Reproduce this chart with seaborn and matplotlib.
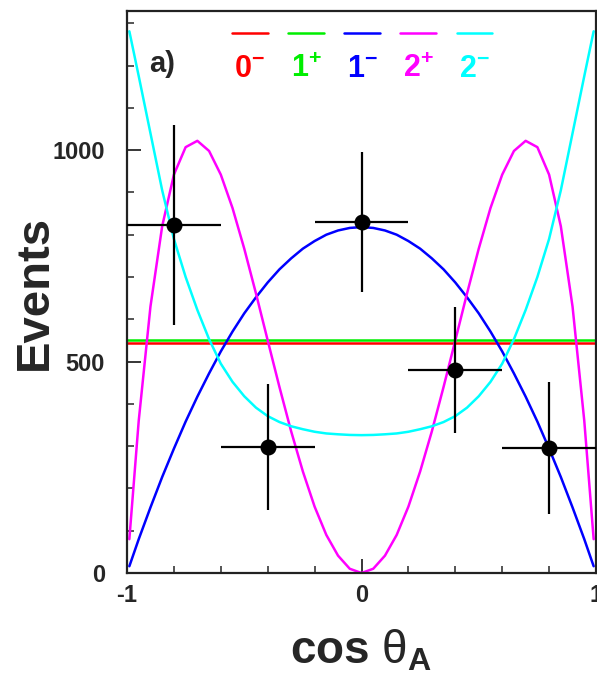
import matplotlib
matplotlib.use("Agg")
import matplotlib.pyplot as plt
import seaborn as sns
import pandas as pd

# ---------------- data ----------------
cos_grid = [-0.99, -0.95, -0.90, -0.85, -0.80, -0.75, -0.70, -0.65, -0.60, -0.55,
            -0.50, -0.45, -0.40, -0.35, -0.30, -0.25, -0.20, -0.15, -0.10, -0.05,
            0.00, 0.05, 0.10, 0.15, 0.20, 0.25, 0.30, 0.35, 0.40, 0.45,
            0.50, 0.55, 0.60, 0.65, 0.70, 0.75, 0.80, 0.85, 0.90, 0.95, 0.99]

curve_1m = [16, 80, 155, 227, 294, 358, 417, 472, 524, 571,
            614, 652, 687, 718, 744, 767, 785, 800, 810, 816,
            818, 816, 810, 800, 785, 767, 744, 718, 687, 652,
            614, 571, 524, 472, 417, 358, 294, 227, 155, 80, 16]

curve_2p = [80, 360, 630, 820, 942, 1007, 1022, 998, 942, 863,
            767, 661, 550, 440, 335, 240, 157, 90, 41, 10,
            0, 10, 41, 90, 157, 240, 335, 440, 550, 661,
            767, 863, 942, 998, 1022, 1007, 942, 820, 630, 360, 80]

curve_2m = [1281, 1175, 1040, 905, 790, 700, 622, 553, 495, 452,
            418, 391, 371, 357, 347, 340, 334, 330, 328, 326.5,
            326, 326.5, 328, 330, 334, 340, 347, 357, 371, 391,
            418, 452, 495, 553, 622, 700, 790, 905, 1040, 1175, 1281]

flat_x = [-1.0, 1.0]
curve_0m = [544, 544]
curve_1p = [551, 551]

data_x = [-0.8, -0.4, 0.0, 0.4, 0.8]
data_y = [823, 298, 830, 480, 296]
data_yerr = [236, 150, 165, 150, 156]
data_xerr = [0.2, 0.2, 0.2, 0.2, 0.2]

legend_labels = [r"$\mathbf{0^{-}}$", r"$\mathbf{1^{+}}$", r"$\mathbf{1^{-}}$",
                 r"$\mathbf{2^{+}}$", r"$\mathbf{2^{-}}$"]
colors = ["#ff0000", "#00ee00", "#0000ff", "#ff00ff", "#00ffff"]

xticks = [-1, 0, 1]
xtick_labels = ["-1", "0", "1"]
yticks = [0, 500, 1000]
ytick_labels = ["0", "500", "1000"]

# ---------------- style ----------------
sns.set_style("ticks")
plt.rcParams["font.family"] = ["Liberation Sans", "DejaVu Sans"]
plt.rcParams["mathtext.fontset"] = "custom"
plt.rcParams["mathtext.rm"] = "Liberation Sans"
plt.rcParams["mathtext.it"] = "Liberation Sans:italic"
plt.rcParams["mathtext.bf"] = "Liberation Sans:bold"

fig = plt.figure(figsize=(5.97, 6.77), dpi=100)
ax = fig.add_axes([127 / 597, 1 - 573 / 677, 469 / 597, 562 / 677])

lw = 1.8
df_flat = pd.DataFrame({"x": flat_x, "y0": curve_0m, "y1": curve_1p})
df_c = pd.DataFrame({"x": cos_grid, "b": curve_1m, "m": curve_2p, "c": curve_2m})

sns.lineplot(data=df_flat, x="x", y="y1", color=colors[1], lw=lw, ax=ax)
sns.lineplot(data=df_flat, x="x", y="y0", color=colors[0], lw=lw, ax=ax)
sns.lineplot(data=df_c, x="x", y="b", color=colors[2], lw=lw, ax=ax)
sns.lineplot(data=df_c, x="x", y="m", color=colors[3], lw=lw, ax=ax)
sns.lineplot(data=df_c, x="x", y="c", color=colors[4], lw=lw, ax=ax)

ax.errorbar(data_x, data_y, yerr=data_yerr, xerr=data_xerr, fmt="o",
            color="black", ms=10.5, elinewidth=1.6, capsize=0, zorder=5)

ax.set_xlim(-1, 1)
ax.set_ylim(0, 1329)
ax.set_xticks(xticks)
ax.set_xticklabels(xtick_labels, fontsize=17, fontweight="bold")
ax.set_yticks(yticks)
ax.set_yticklabels(ytick_labels, fontsize=17, fontweight="bold")
ax.set_xticks([-0.8, -0.6, -0.4, -0.2, 0.2, 0.4, 0.6, 0.8], minor=True)
ax.set_yticks([v for v in range(100, 1329, 100) if v % 500], minor=True)
ax.tick_params(which="major", direction="in", length=10, width=1.3,
               top=False, right=False, pad=8)
ax.tick_params(which="minor", direction="in", length=5, width=1.1,
               top=False, right=False)
ax.tick_params(axis="y", pad=16)
for s in ax.spines.values():
    s.set_visible(True)
    s.set_linewidth(1.6)
    s.set_color("#222222")

ax.set_ylabel("Events", fontsize=34, fontweight="bold")
ax.yaxis.label.set_va("center")
ax.yaxis.set_label_coords(-0.196, 0.5)
ax.set_xlabel(r"cos $\mathrm{\theta}_{\mathbf{A}}$", fontsize=33, fontweight="bold")
ax.xaxis.set_label_coords(0.5, -0.098)
ax.xaxis.label.set_va("top")

# legend: short coloured segment above each label
leg_x0 = 0.262
leg_dx = 0.1197
for i, (lab, col) in enumerate(zip(legend_labels, colors)):
    cx = leg_x0 + i * leg_dx
    ax.plot([cx - 0.038, cx + 0.038], [0.960, 0.960], transform=ax.transAxes,
            color=col, lw=lw, clip_on=False)
    ax.text(cx, 0.897, lab, transform=ax.transAxes, color=col, fontsize=22,
            ha="center", va="center")

ax.text(0.047, 0.906, "a)", transform=ax.transAxes, fontsize=21,
        fontweight="bold", ha="left", va="center")

fig.savefig("out.png", dpi=100)
